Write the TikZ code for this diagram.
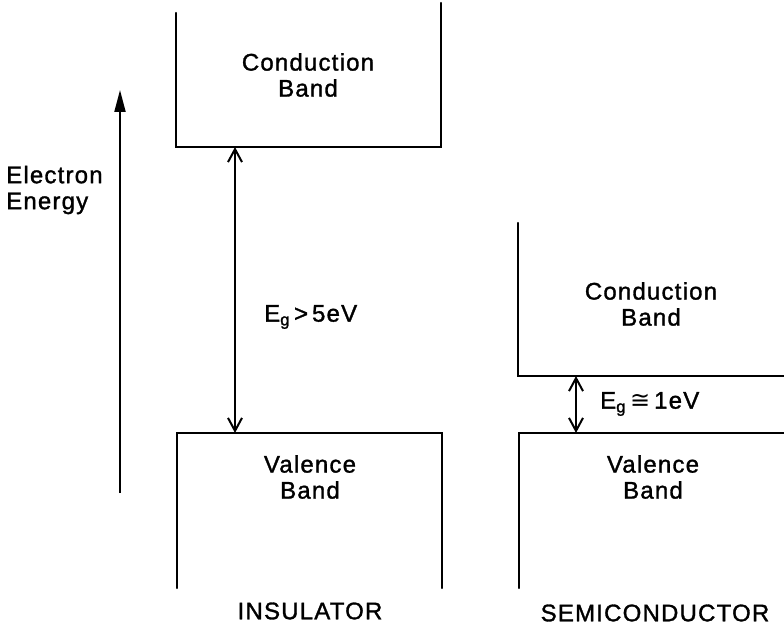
\documentclass[tikz,border=0pt]{standalone}
\usepackage{fontspec}
\setmainfont{Liberation Sans}[LetterSpace=5, FakeBold=1.3]
\newfontfamily\symfont{DejaVu Sans}
\usetikzlibrary{arrows.meta}
\tikzset{
  band/.style={line width=2.4pt, line cap=round, line join=miter},
  lbl/.style={font=\fontsize{24}{26}\selectfont, align=center, inner sep=0pt},
  gap/.style={line width=2.2pt, {Straight Barb[length=13pt,width=14pt,line width=2pt]}-{Straight Barb[length=13pt,width=14pt,line width=2pt]}},
  energy/.style={line width=2pt, -{Triangle[length=22pt,width=11pt]}}
}
\begin{document}
\begin{tikzpicture}[x=1pt,y=-1pt]
\useasboundingbox (0,0) rectangle (784,631);
% insulator
\coordinate (icTL) at (176,13);
\coordinate (icBL) at (176,147);
\coordinate (icBR) at (441,147);
\coordinate (icTR) at (441,3);
\coordinate (ivBL) at (177,588);
\coordinate (ivTL) at (177,433);
\coordinate (ivTR) at (442,433);
\coordinate (ivBR) at (442,588);
\coordinate (igTop) at (235,147);
\coordinate (igBot) at (235,433);
\draw[band] (icTL) -- (icBL) -- (icBR) -- (icTR);
\draw[band] (ivBL) -- (ivTL) -- (ivTR) -- (ivBR);
\draw[gap] (igTop) -- (igBot);
\node[lbl] (icText) at (308,75) {Conduction\\Band};
\node[lbl] (ivText) at (310,477) {Valence\\Band};
\node[lbl, anchor=west] (igText) at (264,317) {E\textsubscript{g}\,>\,5eV};
\node[lbl] (ins) at (310,611) {INSULATOR};
% energy axis
\coordinate (eBot) at (120,493);
\coordinate (eTop) at (120,90);
\draw[energy] (eBot) -- (eTop);
\node[lbl, anchor=west, align=left] (eText) at (6,190) {Electron\\Energy};
% semiconductor
\coordinate (scTL) at (518,223);
\coordinate (scBL) at (518,376);
\coordinate (scBR) at (784,376);
\coordinate (svBL) at (519,588);
\coordinate (svTL) at (519,433);
\coordinate (svTR) at (784,433);
\coordinate (sgTop) at (576,376);
\coordinate (sgBot) at (576,433);
\draw[band] (scTL) -- (scBL) -- (scBR);
\draw[band] (svBL) -- (svTL) -- (svTR);
\draw[gap] (sgTop) -- (sgBot);
\node[lbl] (scText) at (651,304) {Conduction\\Band};
\node[lbl] (svText) at (653,477) {Valence\\Band};
\node[lbl, anchor=west] (sgText) at (600,404) {E\textsubscript{g}\,{\symfont ≅}\,1eV};
\node[lbl] (semi) at (655,613) {SEMICONDUCTOR};
\end{tikzpicture}
\end{document}
